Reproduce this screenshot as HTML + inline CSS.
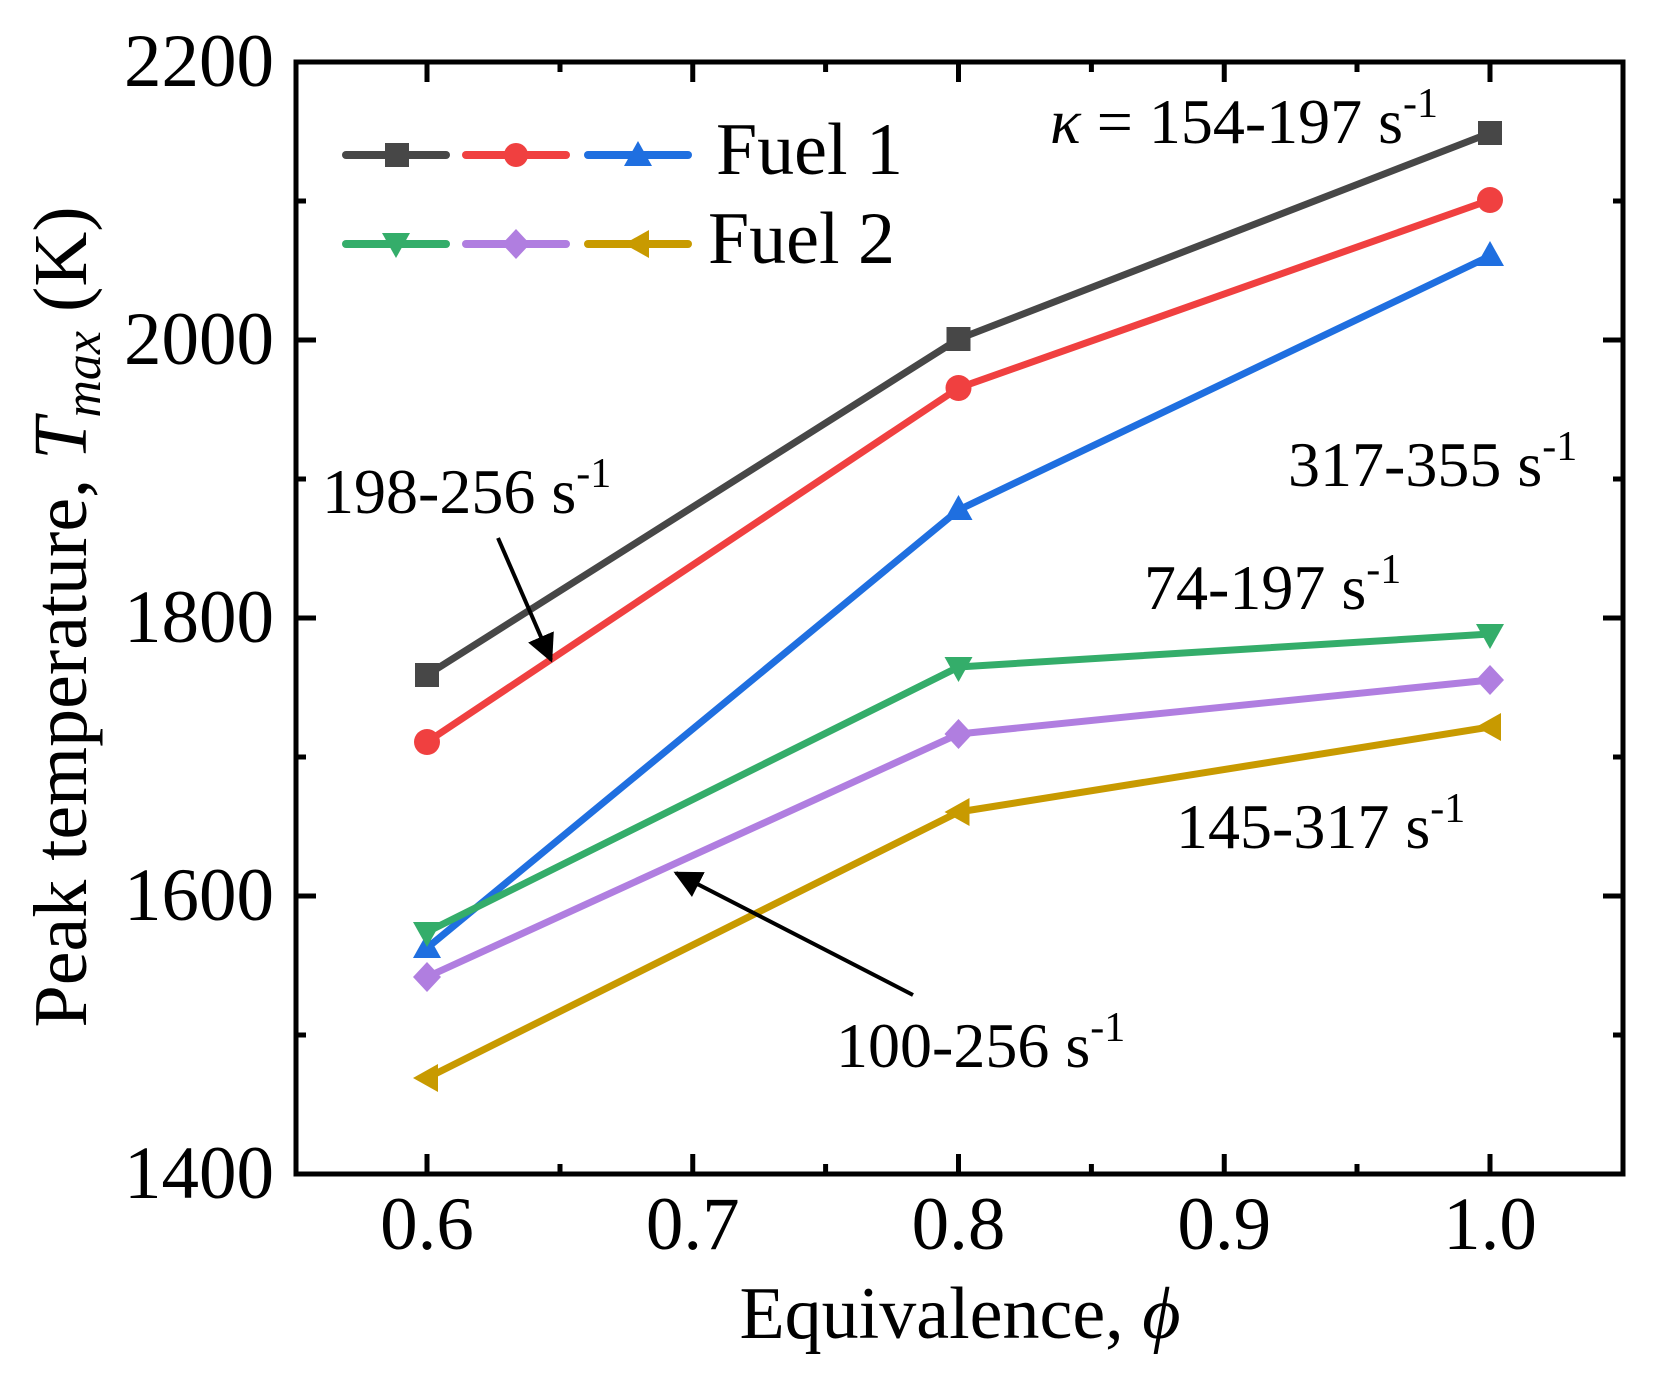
<!DOCTYPE html>
<html><head><meta charset="utf-8"><style>
html,body{margin:0;padding:0;background:#fff;}
svg{display:block;font-family:"Liberation Serif",serif;}
</style></head><body>
<svg width="1667" height="1384" viewBox="0 0 1667 1384" xmlns="http://www.w3.org/2000/svg">
<defs>
<marker id="ah" viewBox="0 0 10 10" refX="9" refY="5" markerWidth="7" markerHeight="7" markerUnits="strokeWidth" orient="auto"><path d="M0,0 L10,5 L0,10 z" fill="#000"/></marker>
</defs>
<rect x="296" y="62" width="1327" height="1112" fill="none" stroke="#000" stroke-width="5"/>
<g stroke="#000" stroke-width="5">
<line x1="427" y1="1174" x2="427" y2="1154"/><line x1="692.75" y1="1174" x2="692.75" y2="1154"/><line x1="958.5" y1="1174" x2="958.5" y2="1154"/><line x1="1224.25" y1="1174" x2="1224.25" y2="1154"/><line x1="1490" y1="1174" x2="1490" y2="1154"/>
<line x1="560" y1="1174" x2="560" y2="1164"/><line x1="825.6" y1="1174" x2="825.6" y2="1164"/><line x1="1091.4" y1="1174" x2="1091.4" y2="1164"/><line x1="1357" y1="1174" x2="1357" y2="1164"/>
<line x1="427" y1="62" x2="427" y2="82"/><line x1="692.75" y1="62" x2="692.75" y2="82"/><line x1="958.5" y1="62" x2="958.5" y2="82"/><line x1="1224.25" y1="62" x2="1224.25" y2="82"/><line x1="1490" y1="62" x2="1490" y2="82"/>
<line x1="560" y1="62" x2="560" y2="72"/><line x1="825.6" y1="62" x2="825.6" y2="72"/><line x1="1091.4" y1="62" x2="1091.4" y2="72"/><line x1="1357" y1="62" x2="1357" y2="72"/>
<line x1="296" y1="340" x2="316" y2="340"/><line x1="296" y1="618" x2="316" y2="618"/><line x1="296" y1="896" x2="316" y2="896"/>
<line x1="296" y1="201" x2="306" y2="201"/><line x1="296" y1="479" x2="306" y2="479"/><line x1="296" y1="757" x2="306" y2="757"/><line x1="296" y1="1035" x2="306" y2="1035"/>
<line x1="1623" y1="340" x2="1603" y2="340"/><line x1="1623" y1="618" x2="1603" y2="618"/><line x1="1623" y1="896" x2="1603" y2="896"/>
<line x1="1623" y1="201" x2="1613" y2="201"/><line x1="1623" y1="479" x2="1613" y2="479"/><line x1="1623" y1="757" x2="1613" y2="757"/><line x1="1623" y1="1035" x2="1613" y2="1035"/>
</g>
<g font-size="75" fill="#000">
<g text-anchor="end">
<text x="274" y="86">2200</text><text x="274" y="364">2000</text><text x="274" y="642">1800</text><text x="274" y="920">1600</text><text x="274" y="1198">1400</text>
</g>
<g text-anchor="middle">
<text x="427" y="1249">0.6</text><text x="692.75" y="1249">0.7</text><text x="958.5" y="1249">0.8</text><text x="1224.25" y="1249">0.9</text><text x="1490" y="1249">1.0</text>
</g>
<text x="960" y="1338" text-anchor="middle" font-size="74">Equivalence, <tspan font-style="italic">ϕ</tspan></text>
<text transform="translate(86,617) rotate(-90)" text-anchor="middle" font-size="76">Peak temperature, <tspan font-style="italic">T</tspan><tspan font-style="italic" font-size="52" dy="14">max</tspan><tspan dy="-14"> (K)</tspan></text>
</g>
<g fill="none" stroke-width="7" stroke-linejoin="round">
<polyline stroke="#474747" points="427,675 958.5,339 1490,133"/>
<polyline stroke="#f04040" points="427,742 958.5,388 1490,200"/>
<polyline stroke="#1f6fe0" points="427,948 958.5,510 1490,256"/>
<polyline stroke="#34ad6a" points="427,932 958.5,667 1490,634"/>
<polyline stroke="#b07ee0" points="427,977 958.5,734 1490,680"/>
<polyline stroke="#c89a00" points="427,1078 958.5,812 1490,727"/>
</g>
<g fill="#474747"><rect x="415" y="663" width="24" height="24"/><rect x="946.5" y="327" width="24" height="24"/><rect x="1478" y="121" width="24" height="24"/></g>
<g fill="#f04040"><circle cx="427" cy="742" r="13"/><circle cx="958.5" cy="388" r="13"/><circle cx="1490" cy="200" r="13"/></g>
<g fill="#1f6fe0"><path d="M427,933 l-14,25 h28z"/><path d="M958.5,495 l-14,25 h28z"/><path d="M1490,241 l-14,25 h28z"/></g>
<g fill="#34ad6a"><path d="M427,947 l-14,-25 h28z"/><path d="M958.5,682 l-14,-25 h28z"/><path d="M1490,649 l-14,-25 h28z"/></g>
<g fill="#b07ee0"><path d="M427,962 l14,15 l-14,15 l-14,-15z"/><path d="M958.5,719 l14,15 l-14,15 l-14,-15z"/><path d="M1490,665 l14,15 l-14,15 l-14,-15z"/></g>
<g fill="#c89a00"><path d="M413,1078 l25,-14 v28z"/><path d="M944.5,812 l25,-14 v28z"/><path d="M1476,727 l25,-14 v28z"/></g>
<g stroke-width="8" stroke-linecap="round">
<line x1="346" y1="155" x2="446" y2="155" stroke="#474747"/><line x1="466" y1="155" x2="566" y2="155" stroke="#f04040"/><line x1="588" y1="155" x2="688" y2="155" stroke="#1f6fe0"/>
<line x1="346" y1="244" x2="446" y2="244" stroke="#34ad6a"/><line x1="466" y1="244" x2="566" y2="244" stroke="#b07ee0"/><line x1="588" y1="244" x2="688" y2="244" stroke="#c89a00"/>
</g>
<rect x="385" y="143" width="24" height="24" fill="#474747"/>
<circle cx="516" cy="155" r="12" fill="#f04040"/>
<path d="M638,141 l-14,25 h28z" fill="#1f6fe0"/>
<path d="M396,258 l-14,-25 h28z" fill="#34ad6a"/>
<path d="M516,229 l14,15 l-14,15 l-14,-15z" fill="#b07ee0"/>
<path d="M624,244 l25,-14 v28z" fill="#c89a00"/>
<g font-size="74" fill="#000">
<text x="716" y="174">Fuel 1</text>
<text x="708" y="263">Fuel 2</text>
</g>
<g font-size="64" fill="#000">
<text x="1050" y="143"><tspan font-style="italic">κ</tspan> = 154-197 s<tspan font-size="42" dy="-26">-1</tspan></text>
<text x="1288" y="486">317-355 s<tspan font-size="42" dy="-26">-1</tspan></text>
<text x="322" y="513">198-256 s<tspan font-size="42" dy="-26">-1</tspan></text>
<text x="1144" y="609">74-197 s<tspan font-size="42" dy="-26">-1</tspan></text>
<text x="1176" y="848">145-317 s<tspan font-size="42" dy="-26">-1</tspan></text>
<text x="836" y="1067">100-256 s<tspan font-size="42" dy="-26">-1</tspan></text>
</g>
<g stroke="#000" stroke-width="4" marker-end="url(#ah)">
<line x1="498" y1="538" x2="551" y2="660"/>
<line x1="913" y1="995" x2="676" y2="873"/>
</g>
</svg>
</body></html>
